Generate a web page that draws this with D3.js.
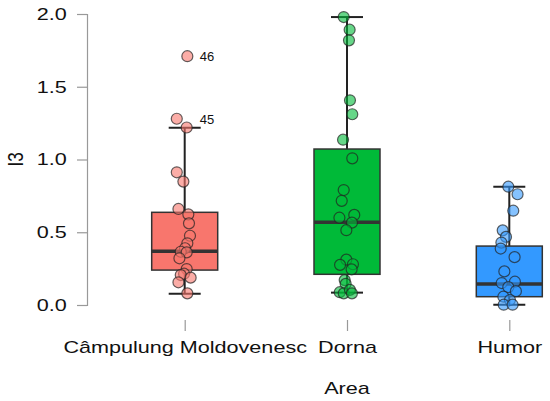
<!DOCTYPE html>
<html>
<head>
<meta charset="utf-8">
<script src="https://cdn.jsdelivr.net/npm/d3@7"></script>
<style>
  body { margin: 0; background: #fff; }
  text { font-family: "Liberation Sans", Arial, sans-serif; fill: #111; }
</style>
</head>
<body>
<script>
// ! Data
const areas = ['Câmpulung Moldovenesc', 'Dorna', 'Humor'];
const boxColors = ['#f8766d', '#00ba38', '#3399ff'];

// * box statistics per area
const whiskerLow = [0.078, 0.085, 0.002];
const q1 = [0.24, 0.211, 0.057];
const median = [0.369, 0.568, 0.144];
const q3 = [0.637, 1.072, 0.405];
const whiskerHigh = [1.219, 1.979, 0.813];

// * individual observations
const campulungValues = [1.71, 1.28, 1.22, 0.912, 0.848, 0.66, 0.623, 0.561, 0.476, 0.424,
  0.39, 0.366, 0.362, 0.321, 0.247, 0.215, 0.206, 0.188, 0.156, 0.08];
const dornaValues = [1.979, 1.892, 1.819, 1.407, 1.311, 1.136, 1.008, 0.79, 0.716, 0.6,
  0.619, 0.566, 0.514, 0.312, 0.276, 0.28, 0.245, 0.171, 0.145, 0.088, 0.08, 0.104, 0.08];
const humorValues = [0.813, 0.761, 0.648, 0.513, 0.468, 0.429, 0.388, 0.329, 0.231, 0.151,
  0.16, 0.123, 0.095, 0.057, 0.034, 0.002, 0.002];

// * horizontal jitter of each point, as a fraction of half the box width
const campulungJitter = [0.08, -0.24, 0.06, -0.24, -0.04, -0.19, 0.11, 0.13, 0.16, 0.08,
  0.01, -0.12, 0.06, -0.16, 0.06, -0.02, -0.12, 0.18, -0.19, 0.08];
const dornaJitter = [-0.1, 0.08, 0.06, 0.09, 0.16, -0.12, 0.16, -0.1, -0.16, -0.23,
  0.22, 0.15, -0.02, -0.02, -0.21, 0.18, 0.14, -0.07, -0.04, -0.22, -0.1, 0.09, 0.15];
const humorJitter = [-0.03, 0.25, 0.12, -0.2, -0.1, -0.24, -0.26, 0.16, -0.15, -0.23,
  0.17, -0.03, 0.2, -0.18, 0.02, -0.17, 0.1];

// * labelled outliers
const outlierArea = ['Câmpulung Moldovenesc', 'Câmpulung Moldovenesc'];
const outlierValue = [1.71, 1.28];
const outlierLabel = ['46', '45'];

const yTicks = [0, 0.5, 1, 1.5, 2];

// ! Drawing begins here
const width = 550;
const height = 401;
// the reference text is a little stretched sideways
const stretch = 'scale(1.27,1)';

const svg = d3
  .select('body')
  .append('svg')
  .attr('width', width)
  .attr('height', height);

const x = d3.scalePoint().domain(areas).range([184.7, 509.3]);
const y = d3.scaleLinear().domain([0, 2]).range([305, 14]);
const color = d3.scaleOrdinal().domain(areas).range(boxColors);
const boxWidth = 66;
const capWidth = 32;

// * y axis
const yAxis = svg
  .append('g')
  .attr('transform', 'translate(87,0)')
  .call(d3.axisLeft(y).tickValues(yTicks).tickFormat(d3.format('.1f')).tickSize(10).tickPadding(6));
yAxis.select('.domain').attr('stroke', '#999').attr('stroke-width', 1.2);
yAxis.selectAll('.tick line').attr('stroke', '#999').attr('stroke-width', 1.2);
yAxis.selectAll('.tick text')
  .style('font-size', '17px')
  .attr('fill', '#111')
  .attr('transform', stretch);

// * x axis (ticks only)
const xAxis = svg
  .append('g')
  .attr('transform', 'translate(0,320)')
  .call(d3.axisBottom(x).tickSize(11).tickPadding(10).tickSizeOuter(0));
xAxis.select('.domain').remove();
xAxis.selectAll('.tick line').attr('stroke', '#999').attr('stroke-width', 1.2);
xAxis.selectAll('.tick text')
  .style('font-size', '17px')
  .attr('fill', '#111')
  .attr('transform', stretch);

// * axis titles
svg
  .append('text')
  .attr('transform', `translate(23,${y(1)}) rotate(-90) scale(1,1.27)`)
  .attr('text-anchor', 'middle')
  .style('font-size', '17px')
  .text('I3');
svg
  .append('text')
  .attr('transform', `translate(${x('Dorna')},394) ${stretch}`)
  .attr('text-anchor', 'middle')
  .style('font-size', '17px')
  .text('Area');

// * boxes
const boxes = areas.map((a, i) => ({
  area: a, lo: whiskerLow[i], q1: q1[i], med: median[i], q3: q3[i], hi: whiskerHigh[i],
}));

const boxG = svg
  .append('g')
  .selectAll('g')
  .data(boxes)
  .enter()
  .append('g')
  .attr('transform', (d) => `translate(${x(d.area)},0)`);

boxG
  .append('line')
  .attr('y1', (d) => y(d.lo))
  .attr('y2', (d) => y(d.hi))
  .attr('stroke', '#222')
  .attr('stroke-width', 2);
boxG
  .selectAll('.cap')
  .data((d) => [d.lo, d.hi])
  .enter()
  .append('line')
  .attr('class', 'cap')
  .attr('x1', -capWidth / 2)
  .attr('x2', capWidth / 2)
  .attr('y1', (v) => y(v))
  .attr('y2', (v) => y(v))
  .attr('stroke', '#222')
  .attr('stroke-width', 2);
boxG
  .append('rect')
  .attr('x', -boxWidth / 2)
  .attr('width', boxWidth)
  .attr('y', (d) => y(d.q3))
  .attr('height', (d) => y(d.q1) - y(d.q3))
  .attr('fill', (d) => color(d.area))
  .attr('stroke', '#333')
  .attr('stroke-width', 1.5);
boxG
  .append('line')
  .attr('x1', -boxWidth / 2)
  .attr('x2', boxWidth / 2)
  .attr('y1', (d) => y(d.med))
  .attr('y2', (d) => y(d.med))
  .attr('stroke', '#333')
  .attr('stroke-width', 3.5);

// * jittered points
const allValues = [campulungValues, dornaValues, humorValues];
const allJitter = [campulungJitter, dornaJitter, humorJitter];
const points = [];
areas.forEach((a, i) => {
  allValues[i].forEach((v, j) => points.push({ area: a, value: v, jitter: allJitter[i][j] }));
});

svg
  .append('g')
  .selectAll('circle')
  .data(points)
  .enter()
  .append('circle')
  .attr('cx', (d) => x(d.area) + d.jitter * (boxWidth / 2))
  .attr('cy', (d) => y(d.value))
  .attr('r', 5.5)
  .attr('fill', (d) => color(d.area))
  .attr('fill-opacity', 0.6)
  .attr('stroke', '#222')
  .attr('stroke-opacity', 0.7)
  .attr('stroke-width', 1.2);

// * outlier labels
svg
  .append('g')
  .selectAll('text')
  .data(outlierLabel)
  .enter()
  .append('text')
  .attr('x', (d, i) => x(outlierArea[i]) + 15)
  .attr('y', (d, i) => y(outlierValue[i]) + 5)
  .style('font-size', '13px')
  .text((d) => d);
</script>
</body>
</html>
